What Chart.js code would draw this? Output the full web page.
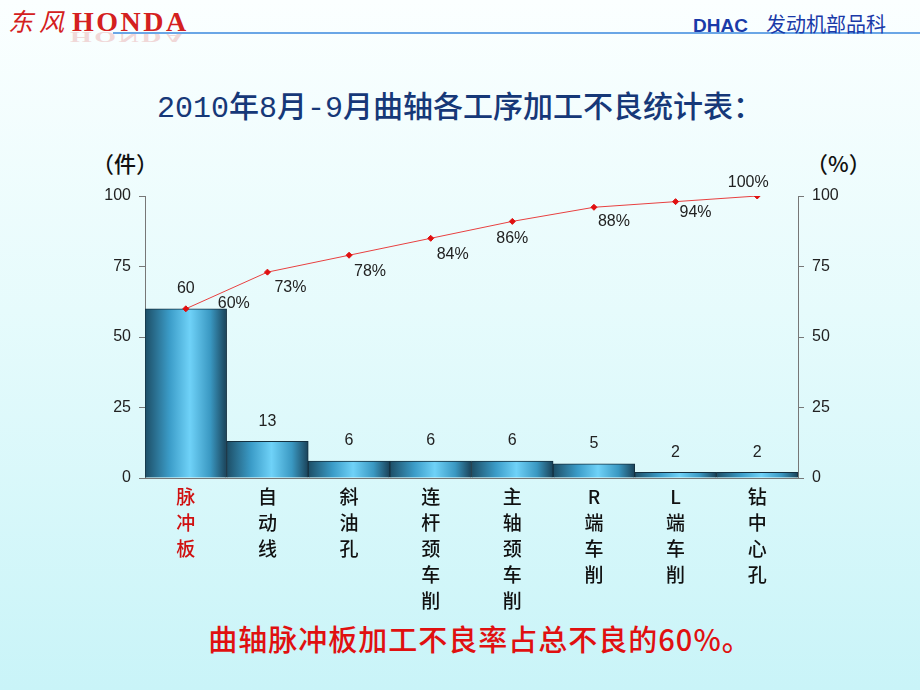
<!DOCTYPE html>
<html>
<head>
<meta charset="utf-8">
<script src="https://cdn.jsdelivr.net/npm/chart.js@4/dist/chart.umd.min.js"></script>
<style>
  html, body { margin: 0; padding: 0; }
  body {
    width: 920px; height: 690px; position: relative; overflow: hidden;
    background: linear-gradient(to bottom, #fbffff 0%, #e6fbfc 45%, #c9f4f8 100%);
    font-family: "Liberation Sans", "Noto Sans CJK SC", sans-serif;
  }
  .abs { position: absolute; white-space: nowrap; }
  #logo { left: 8px; top: 5px; color: #d42020; line-height: 30px; }
  #logo .df { font-family: "Noto Sans CJK SC"; font-size: 25px; font-style: italic; letter-spacing: 6px; }
  #logo .hd { font-family: "Liberation Serif"; font-weight: bold; font-size: 28px; letter-spacing: 2.5px; margin-left: 2px; }
  #refl { left: 70px; top: 30px; color: #e08080; opacity: 0.3; transform: translateY(12px) scaleY(-0.5); transform-origin: top;
    font-family: "Liberation Serif"; font-weight: bold; font-size: 28px; letter-spacing: 2.5px; line-height: 24px; }
  #rule { left: 113px; top: 32px; width: 807px; height: 2px; background: #6aa6e6; }
  #dept { left: 693px; top: 9px; color: #1a3aa8; font-size: 19px; font-weight: bold; }
  #dept .cn { font-family: "Noto Sans CJK SC"; font-weight: normal; margin-left: 18px; font-size: 20px; }
  #title { left: 0; width: 920px; top: 82px; text-align: center; color: #163878;
    font-family: "Liberation Mono", "Noto Sans CJK SC"; font-size: 30px; font-weight: 500; }
  .unit { top: 146px; font-family: "Noto Sans CJK SC"; font-size: 22px; color: #111; font-weight: 500; }
  #note { left: 0; width: 960px; top: 617px; text-align: center; color: #e01010;
    font-family: "Noto Sans CJK SC"; font-size: 29px; font-weight: 500; letter-spacing: 1px; }
  canvas { position: absolute; left: 0; top: 0; }
</style>
</head>
<body>
<div id="logo" class="abs"><span class="df">东风</span><span class="hd">HONDA</span></div>
<div id="refl" class="abs">HONDA</div>
<div id="rule" class="abs"></div>
<div id="dept" class="abs">DHAC<span class="cn">发动机部品科</span></div>
<div id="title" class="abs">2010年8月-9月曲轴各工序加工不良统计表：</div>
<div class="abs unit" style="left:92px">（件）</div>
<div class="abs unit" style="left:806px">（%）</div>
<div id="note" class="abs">曲轴脉冲板加工不良率占总不良的60%。</div>
<canvas id="c" width="920" height="690"></canvas>
<script>
const categories = [
  ["脉", "冲", "板"],
  ["自", "动", "线"],
  ["斜", "油", "孔"],
  ["连", "杆", "颈", "车", "削"],
  ["主", "轴", "颈", "车", "削"],
  ["R", "端", "车", "削"],
  ["L", "端", "车", "削"],
  ["钻", "中", "心", "孔"]
];
const defects = [60, 13, 6, 6, 6, 5, 2, 2];
const cumulative = [60, 73, 79, 85, 91, 96, 98, 100];
const cumulativeLabels = ["60%", "73%", "78%", "84%", "86%", "88%", "94%", "100%"];
const yTicks = [0, 25, 50, 75, 100];

// offsets of the percentage labels relative to their points
const pctOffsets = [[48, -5], [23, 15], [21, 16], [22, 16], [0, 17], [20, 14], [20, 11], [-9, -13]];

function barFill(ctx) {
  const chart = ctx.chart;
  const area = chart.chartArea;
  if (!area) return "#4ab6e0";
  const xs = chart.scales.x;
  const cx = xs.getPixelForValue(ctx.dataIndex);
  const w = area.width / defects.length;
  const g = chart.ctx.createLinearGradient(cx - w / 2, 0, cx + w / 2, 0);
  g.addColorStop(0, "#1d4e66");
  g.addColorStop(0.3, "#3b9cc8");
  g.addColorStop(0.55, "#6fd2f8");
  g.addColorStop(0.8, "#3a98c2");
  g.addColorStop(1, "#1a4258");
  return g;
}

const labelPlugin = {
  id: "valueLabels",
  afterDatasetsDraw(chart) {
    const c = chart.ctx;
    c.save();
    c.font = "16px 'Liberation Sans'";
    c.fillStyle = "#222";
    c.textAlign = "center";
    c.textBaseline = "middle";
    chart.getDatasetMeta(1).data.forEach((bar, i) => {
      c.fillText(String(defects[i]), bar.x, bar.y - 20);
    });
    chart.getDatasetMeta(0).data.forEach((pt, i) => {
      const o = pctOffsets[i];
      c.fillText(cumulativeLabels[i], pt.x + o[0], pt.y + o[1]);
    });
    c.restore();
  }
};

new Chart(document.getElementById("c"), {
  data: {
    labels: categories,
    datasets: [
      {
        type: "line",
        data: cumulative,
        yAxisID: "y1",
        borderColor: "#e84040",
        borderWidth: 1,
        pointStyle: "rectRot",
        pointRadius: 3,
        pointBackgroundColor: "#e01010",
        pointBorderColor: "#e01010",
        order: 0
      },
      {
        type: "bar",
        data: defects,
        yAxisID: "y",
        backgroundColor: barFill,
        borderColor: "#143040",
        borderWidth: 1,
        categoryPercentage: 1,
        barPercentage: 1,
        order: 1
      }
    ]
  },
  plugins: [labelPlugin],
  options: {
    responsive: false,
    animation: false,
    layout: { padding: { top: 196, left: 0, right: 0, bottom: 0 } },
    plugins: { legend: { display: false }, tooltip: { enabled: false } },
    scales: {
      x: {
        grid: { display: false },
        border: { display: true, color: "#777" },
        ticks: {
          padding: -2,
          maxRotation: 0,
          autoSkip: false,
          color: (ctx) => (ctx.index === 0 ? "#d01010" : "#111"),
          font: { family: "'Noto Sans CJK SC'", size: 19, weight: 500, lineHeight: 1.37 }
        },
        afterFit: (s) => { s.height = 212; }
      },
      y: {
        position: "left",
        min: 0, max: 100,
        afterBuildTicks: (s) => { s.ticks = yTicks.map((v) => ({ value: v })); },
        grid: { drawOnChartArea: false, tickLength: 6, color: "#777" },
        border: { display: true, color: "#777" },
        ticks: { padding: 8, color: "#222", font: { family: "'Liberation Sans'", size: 16 } },
        afterFit: (s) => { s.width = 145; }
      },
      y1: {
        position: "right",
        min: 0, max: 100,
        afterBuildTicks: (s) => { s.ticks = yTicks.map((v) => ({ value: v })); },
        grid: { drawOnChartArea: false, tickLength: 6, color: "#777" },
        border: { display: true, color: "#777" },
        ticks: { padding: 8, color: "#222", font: { family: "'Liberation Sans'", size: 16 } },
        afterFit: (s) => { s.width = 122; }
      }
    }
  }
});
</script>
</body>
</html>
